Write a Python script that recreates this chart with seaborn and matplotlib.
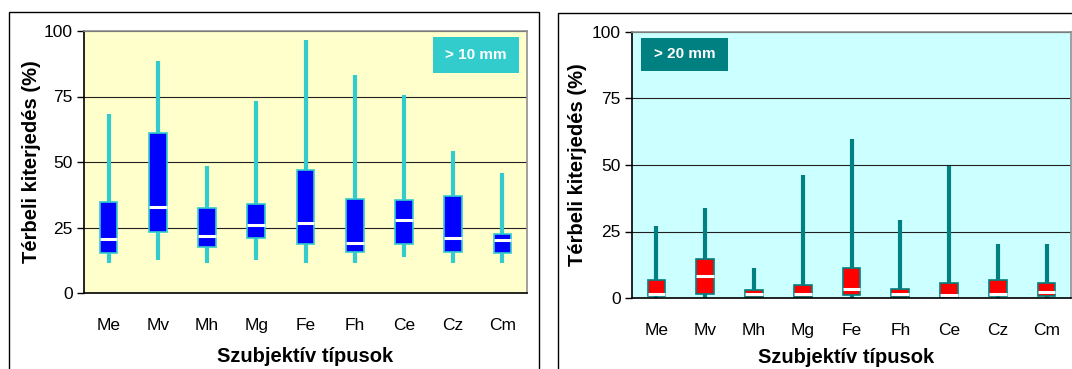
import numpy as np
import pandas as pd
import matplotlib
matplotlib.use('Agg')
import matplotlib.pyplot as plt
import seaborn as sns
from matplotlib.patches import Rectangle

# categories (subjective types)
tipusok = ['Me', 'Mv', 'Mh', 'Mg', 'Fe', 'Fh', 'Ce', 'Cz', 'Cm']

# > 10 mm : min, q1, median, q3, max (%)
min_10 = [11.4, 12.7, 11.4, 12.7, 11.4, 11.4, 13.7, 11.4, 11.4]
q1_10 = [15.2, 23.1, 17.5, 21.0, 18.7, 15.6, 18.7, 15.6, 15.2]
med_10 = [20.8, 32.8, 21.6, 25.8, 26.9, 18.9, 27.7, 21.1, 20.3]
q3_10 = [34.7, 61.0, 32.4, 33.8, 46.8, 36.0, 35.5, 37.2, 22.5]
max_10 = [68.4, 88.7, 48.5, 73.2, 96.6, 83.1, 75.5, 54.1, 45.9]

# > 20 mm
min_20 = [0.0, 0.0, 0.0, 0.0, 0.0, 0.0, 0.0, 0.0, 0.0]
q1_20 = [0.6, 1.6, 0.4, 0.4, 1.0, 0.4, 0.4, 0.6, 0.6]
med_20 = [1.4, 8.2, 1.4, 1.4, 3.4, 1.4, 1.1, 1.4, 2.1]
q3_20 = [6.9, 14.7, 3.1, 4.8, 11.2, 3.5, 5.7, 6.9, 5.7]
max_20 = [27.0, 33.8, 11.2, 46.4, 59.7, 29.3, 49.7, 20.2, 20.2]


def long_df(mn, q1, med, q3, mx):
    # five values per type -> boxplot with whis=(0,100) reproduces them
    df = pd.DataFrame({'tipus': tipusok, 'min': mn, 'q1': q1, 'med': med, 'q3': q3, 'max': mx})
    return df.melt(id_vars='tipus', value_name='ertek')


df10 = long_df(min_10, q1_10, med_10, q3_10, max_10)
df20 = long_df(min_20, q1_20, med_20, q3_20, max_20)

sns.set_style('white')
plt.rcParams['font.family'] = ['Liberation Sans', 'DejaVu Sans']
plt.rcParams['text.color'] = 'black'
plt.rcParams['axes.labelcolor'] = 'black'
plt.rcParams['xtick.color'] = 'black'
plt.rcParams['ytick.color'] = 'black'

W, H = 1072, 369
fig = plt.figure(figsize=(W / 100, H / 100), dpi=100)

# panel frames
fig.patches.append(Rectangle((9 / W, -0.1), (539 - 9) / W, 1.1 - 12 / H, transform=fig.transFigure,
                             fill=False, edgecolor='black', linewidth=1.0))
fig.patches.append(Rectangle((558 / W, -0.1), 0.5, 1.1 - 13 / H, transform=fig.transFigure,
                             fill=False, edgecolor='black', linewidth=1.0))

ax1 = fig.add_axes([84 / W, 1 - 293 / H, (527 - 84) / W, (293 - 31) / H])
ax2 = fig.add_axes([632 / W, 1 - 298 / H, (1071 - 632) / W, (298 - 32) / H])

panels = [
    (ax1, df10, '#FFFFCC', '#0000FF', '#33CCCC', '> 10 mm', 'right'),
    (ax2, df20, '#CCFFFF', '#FF0000', '#008080', '> 20 mm', 'left'),
]

for ax, df, bg, fill, edge, label, side in panels:
    ax.set_facecolor(bg)
    ax.set_axisbelow(True)
    ax.yaxis.grid(True, color='#202020', linewidth=0.8)
    sns.boxplot(data=df, x='tipus', y='ertek', order=tipusok, whis=(0, 100), width=0.36,
                color=fill, linecolor=edge, linewidth=1.2, saturation=1, showfliers=False,
                whiskerprops={'color': edge, 'linewidth': 3.0},
                capprops={'linewidth': 0},
                medianprops={'color': 'white', 'linewidth': 2.2},
                ax=ax)
    ax.set_xlim(-0.5, 8.5)
    ax.set_ylim(0, 100)
    ax.set_yticks([0, 25, 50, 75, 100])
    ax.set_xticks(np.arange(-0.5, 9, 1))
    ax.set_xticklabels([''] * 10)
    ax.set_xticks(range(9), minor=True)
    ax.set_xticklabels(tipusok, minor=True)
    ax.tick_params(axis='x', which='major', direction='inout', length=9, width=1, color='black')
    ax.tick_params(axis='x', which='minor', length=0, pad=18, labelsize=12.5)
    ax.tick_params(axis='y', direction='out', length=5, width=1, color='black', pad=3, labelsize=12.5, left=True)
    for s in ['left', 'bottom']:
        ax.spines[s].set_color('black')
        ax.spines[s].set_linewidth(1.2)
    for s in ['top', 'right']:
        ax.spines[s].set_color('#909090')
        ax.spines[s].set_linewidth(1.2)

    ax.set_xlabel('Szubjektív típusok', fontsize=14.5, fontweight='bold')
    ax.set_ylabel('Térbeli kiterjedés (%)', fontsize=14.5, fontweight='bold')

    if side == 'right':
        bx = (433 - 84) / (527 - 84)
        bw = (519 - 433) / (527 - 84)
        by = 1 - (73 - 31) / 262
        bh = (73 - 37) / 262
    else:
        bx = (641 - 632) / (1071 - 632)
        bw = (728 - 641) / (1071 - 632)
        by = 1 - (71 - 32) / 266
        bh = (71 - 38) / 266
    ax.add_patch(Rectangle((bx, by), bw, bh, transform=ax.transAxes,
                           facecolor=edge, edgecolor='none', zorder=5))
    ax.text(bx + bw / 2, by + bh / 2, label, transform=ax.transAxes, ha='center', va='center',
            color='white', fontsize=11, fontweight='bold', zorder=6)

ax1.yaxis.set_label_coords(-0.098, 0.5)
ax2.yaxis.set_label_coords(-0.102, 0.5)
ax1.xaxis.set_label_coords(0.5, -0.205)
ax2.xaxis.set_label_coords(0.487, -0.188)

fig.savefig('out.png', dpi=100)
